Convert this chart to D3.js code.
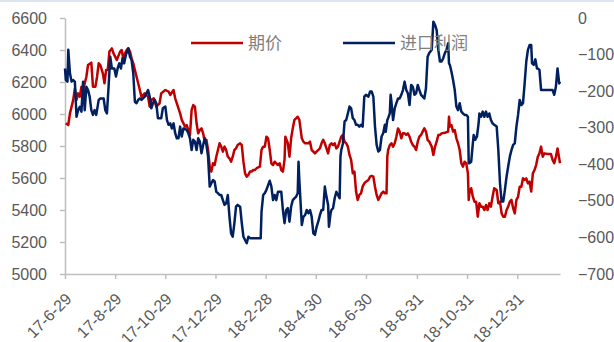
<!DOCTYPE html>
<html lang="zh">
<head>
    <meta charset="UTF-8">
    <title>期价与进口利润</title>
    <script src="https://d3js.org/d3.v7.min.js"></script>
    <style>
        body {
            margin: 0;
            background: #ffffff;
            font-family: 'Open Sans', 'Noto Sans CJK SC', sans-serif;
        }
        .axis text {
            font-size: 16px;
            fill: #595959;
        }
        .axis path, .axis line {
            stroke: #bfbfbf;
            stroke-width: 1.5px;
        }
        .legend text {
            font-size: 17px;
            fill: #7f7f7f;
        }
    </style>
</head>
<body>
    <div id="chart"></div>

    <script>
        // 期价 (left axis)
        const priceData = [
            ["2017-06-30", 5942], ["2017-07-03", 5931], ["2017-07-05", 6004], ["2017-07-09", 6088], ["2017-07-11", 6160],
            ["2017-07-13", 6088], ["2017-07-15", 6129], ["2017-07-17", 6108], ["2017-07-19", 6171], ["2017-07-21", 6150],
            ["2017-07-25", 6233], ["2017-07-27", 6306], ["2017-07-31", 6321], ["2017-08-02", 6171], ["2017-08-05", 6171],
            ["2017-08-07", 6233], ["2017-08-09", 6317], ["2017-08-11", 6306], ["2017-08-14", 6254], ["2017-08-16", 6192],
            ["2017-08-18", 6275], ["2017-08-20", 6275], ["2017-08-22", 6390], ["2017-08-25", 6410], ["2017-08-27", 6379],
            ["2017-08-31", 6338], ["2017-09-04", 6390], ["2017-09-06", 6400], ["2017-09-08", 6338], ["2017-09-10", 6379],
            ["2017-09-12", 6400], ["2017-09-14", 6410], ["2017-09-16", 6390], ["2017-09-18", 6348], ["2017-09-20", 6317],
            ["2017-09-23", 6254], ["2017-09-26", 6192], ["2017-09-28", 6150], ["2017-09-30", 6108], ["2017-10-04", 6129],
            ["2017-10-08", 6108], ["2017-10-10", 6046], ["2017-10-12", 6088], ["2017-10-15", 6098], ["2017-10-18", 6046],
            ["2017-10-22", 6067], ["2017-10-24", 6129], ["2017-10-29", 6150], ["2017-11-02", 6140], ["2017-11-04", 6119],
            ["2017-11-08", 6150], ["2017-11-10", 6098], ["2017-11-12", 6067], ["2017-11-16", 6004], ["2017-11-18", 5963],
            ["2017-11-22", 5921], ["2017-11-24", 5931], ["2017-11-26", 5900], ["2017-11-28", 5869], ["2017-11-30", 6025],
            ["2017-12-02", 6056], ["2017-12-04", 6046], ["2017-12-06", 5942], ["2017-12-08", 5879], ["2017-12-10", 5900],
            ["2017-12-12", 5910], ["2017-12-14", 5879], ["2017-12-16", 5827], ["2017-12-18", 5838], ["2017-12-20", 5775],
            ["2017-12-22", 5671], ["2017-12-24", 5640], ["2017-12-26", 5692], ["2017-12-28", 5681], ["2017-12-30", 5733],
            ["2018-01-01", 5775], ["2018-01-03", 5817], ["2018-01-05", 5796], ["2018-01-07", 5765], ["2018-01-09", 5796],
            ["2018-01-11", 5775], ["2018-01-13", 5733], ["2018-01-15", 5723], ["2018-01-17", 5702], ["2018-01-19", 5733],
            ["2018-01-21", 5775], ["2018-01-23", 5785], ["2018-01-25", 5806], ["2018-01-28", 5817], ["2018-01-30", 5806],
            ["2018-02-01", 5702], ["2018-02-03", 5629], ["2018-02-05", 5608], ["2018-02-07", 5619], ["2018-02-09", 5640],
            ["2018-02-11", 5640], ["2018-02-13", 5650], ["2018-02-15", 5650], ["2018-02-17", 5661], ["2018-02-21", 5671],
            ["2018-02-23", 5775], ["2018-02-25", 5796], ["2018-02-27", 5796], ["2018-03-01", 5858], ["2018-03-03", 5848],
            ["2018-03-05", 5775], ["2018-03-07", 5692], ["2018-03-09", 5681], ["2018-03-11", 5702], ["2018-03-13", 5692],
            ["2018-03-15", 5681], ["2018-03-17", 5692], ["2018-03-19", 5650], ["2018-03-21", 5640], ["2018-03-23", 5713],
            ["2018-03-24", 5858], ["2018-03-27", 5817], ["2018-03-29", 5733], ["2018-03-31", 5848], ["2018-04-02", 5910],
            ["2018-04-04", 5963], ["2018-04-06", 5973], ["2018-04-08", 5983], ["2018-04-10", 5963], ["2018-04-13", 5848],
            ["2018-04-15", 5827], ["2018-04-17", 5817], ["2018-04-21", 5817], ["2018-04-23", 5827], ["2018-04-25", 5775],
            ["2018-04-27", 5765], ["2018-04-29", 5754], ["2018-05-01", 5765], ["2018-05-05", 5785], ["2018-05-07", 5817],
            ["2018-05-09", 5838], ["2018-05-11", 5817], ["2018-05-13", 5785], ["2018-05-15", 5754], ["2018-05-17", 5806],
            ["2018-05-19", 5817], ["2018-05-21", 5806], ["2018-05-23", 5817], ["2018-05-25", 5785], ["2018-05-27", 5796],
            ["2018-05-29", 5827], ["2018-05-31", 5858], ["2018-06-02", 5869], ["2018-06-04", 5827], ["2018-06-06", 5817],
            ["2018-06-08", 5796], ["2018-06-10", 5744], ["2018-06-12", 5713], ["2018-06-14", 5629], ["2018-06-16", 5640],
            ["2018-06-18", 5515], ["2018-06-20", 5463], ["2018-06-22", 5494], ["2018-06-24", 5504], ["2018-06-26", 5546],
            ["2018-06-28", 5567], ["2018-06-30", 5577], ["2018-07-03", 5588], ["2018-07-05", 5608], ["2018-07-07", 5613],
            ["2018-07-09", 5608], ["2018-07-11", 5546], ["2018-07-13", 5494], ["2018-07-15", 5463], ["2018-07-17", 5483],
            ["2018-07-19", 5504], ["2018-07-21", 5515], ["2018-07-23", 5504], ["2018-07-25", 5504], ["2018-07-26", 5733],
            ["2018-07-27", 5775], ["2018-07-29", 5806], ["2018-07-31", 5817], ["2018-08-02", 5796], ["2018-08-04", 5817],
            ["2018-08-06", 5858], ["2018-08-08", 5910], ["2018-08-10", 5890], ["2018-08-12", 5848], ["2018-08-14", 5879],
            ["2018-08-16", 5879], ["2018-08-18", 5869], ["2018-08-20", 5879], ["2018-08-22", 5858], ["2018-08-24", 5827],
            ["2018-08-26", 5806], ["2018-08-28", 5796], ["2018-08-30", 5775], ["2018-09-01", 5827], ["2018-09-03", 5858],
            ["2018-09-05", 5869], ["2018-09-07", 5890], ["2018-09-09", 5910], ["2018-09-11", 5890], ["2018-09-13", 5838],
            ["2018-09-15", 5827], ["2018-09-18", 5796], ["2018-09-20", 5744], ["2018-09-22", 5796], ["2018-09-24", 5827],
            ["2018-09-26", 5869], ["2018-09-28", 5869], ["2018-09-30", 5879], ["2018-10-04", 5883], ["2018-10-08", 5890],
            ["2018-10-09", 5983], ["2018-10-10", 5921], ["2018-10-12", 5931], ["2018-10-14", 5890], ["2018-10-16", 5900],
            ["2018-10-18", 5848], ["2018-10-20", 5817], ["2018-10-22", 5775], ["2018-10-24", 5692], ["2018-10-26", 5671],
            ["2018-10-28", 5702], ["2018-10-30", 5692], ["2018-11-01", 5629], ["2018-11-02", 5463], ["2018-11-03", 5515],
            ["2018-11-05", 5536], ["2018-11-07", 5483], ["2018-11-09", 5452], ["2018-11-11", 5452], ["2018-11-13", 5358],
            ["2018-11-15", 5442], ["2018-11-17", 5421], ["2018-11-19", 5421], ["2018-11-21", 5400], ["2018-11-23", 5431],
            ["2018-11-25", 5400], ["2018-11-27", 5442], ["2018-11-29", 5421], ["2018-12-01", 5483], ["2018-12-03", 5536],
            ["2018-12-06", 5525], ["2018-12-08", 5442], ["2018-12-10", 5452], ["2018-12-12", 5379], ["2018-12-14", 5358],
            ["2018-12-16", 5358], ["2018-12-18", 5400], ["2018-12-20", 5421], ["2018-12-22", 5452], ["2018-12-24", 5463],
            ["2018-12-26", 5411], ["2018-12-28", 5379], ["2018-12-30", 5463], ["2019-01-01", 5483], ["2019-01-03", 5546],
            ["2019-01-05", 5546], ["2019-01-07", 5598], ["2019-01-09", 5588], ["2019-01-11", 5598], ["2019-01-13", 5567],
            ["2019-01-15", 5577], ["2019-01-17", 5515], ["2019-01-19", 5629], ["2019-01-21", 5650], ["2019-01-23", 5681],
            ["2019-01-25", 5733], ["2019-01-27", 5754], ["2019-01-29", 5796], ["2019-01-31", 5733], ["2019-02-02", 5754],
            ["2019-02-06", 5750], ["2019-02-10", 5750], ["2019-02-12", 5713], ["2019-02-14", 5692], ["2019-02-16", 5733],
            ["2019-02-18", 5785], ["2019-02-21", 5692]
        ];

        // 进口利润 (right axis)
        const profitData = [
            ["2017-06-29", -138], ["2017-06-30", -169], ["2017-07-02", -174], ["2017-07-03", -87], ["2017-07-05", -151],
            ["2017-07-07", -174], ["2017-07-09", -170], ["2017-07-11", -174], ["2017-07-13", -270], ["2017-07-15", -252],
            ["2017-07-17", -243], ["2017-07-19", -256], ["2017-07-21", -174], ["2017-07-23", -252], ["2017-07-25", -188],
            ["2017-07-27", -197], ["2017-07-29", -215], ["2017-07-31", -252], ["2017-08-02", -265], ["2017-08-04", -252],
            ["2017-08-06", -265], ["2017-08-09", -224], ["2017-08-11", -220], ["2017-08-15", -220], ["2017-08-17", -252],
            ["2017-08-19", -261], ["2017-08-21", -188], ["2017-08-23", -106], ["2017-08-25", -138], ["2017-08-28", -138],
            ["2017-08-30", -160], ["2017-09-01", -138], ["2017-09-03", -124], ["2017-09-05", -138], ["2017-09-07", -110],
            ["2017-09-09", -124], ["2017-09-11", -101], ["2017-09-14", -83], ["2017-09-16", -106], ["2017-09-18", -115],
            ["2017-09-20", -151], ["2017-09-22", -229], ["2017-09-24", -233], ["2017-09-26", -224], ["2017-09-28", -220],
            ["2017-09-30", -224], ["2017-10-04", -215], ["2017-10-08", -197], ["2017-10-10", -215], ["2017-10-12", -247],
            ["2017-10-14", -233], ["2017-10-16", -224], ["2017-10-18", -233], ["2017-10-20", -274], ["2017-10-24", -274],
            ["2017-10-26", -247], ["2017-10-29", -242], ["2017-10-31", -279], ["2017-11-02", -292], ["2017-11-04", -288],
            ["2017-11-06", -302], ["2017-11-08", -288], ["2017-11-10", -315], ["2017-11-12", -329], ["2017-11-14", -329],
            ["2017-11-16", -297], ["2017-11-18", -324], ["2017-11-20", -302], ["2017-11-24", -306], ["2017-11-26", -315],
            ["2017-11-28", -329], ["2017-11-30", -361], ["2017-12-02", -333], ["2017-12-04", -338], ["2017-12-06", -361],
            ["2017-12-08", -329], ["2017-12-10", -338], ["2017-12-12", -370], ["2017-12-14", -347], ["2017-12-16", -329],
            ["2017-12-18", -347], ["2017-12-20", -379], ["2017-12-22", -461], ["2017-12-24", -452], ["2017-12-26", -443],
            ["2017-12-28", -447], ["2017-12-30", -475], ["2018-01-01", -479], ["2018-01-03", -484], ["2018-01-05", -484],
            ["2018-01-07", -498], ["2018-01-09", -511], ["2018-01-11", -507], ["2018-01-13", -484], ["2018-01-15", -543],
            ["2018-01-17", -589], ["2018-01-19", -598], ["2018-01-21", -561], ["2018-01-23", -516], ["2018-01-25", -511],
            ["2018-01-28", -516], ["2018-01-30", -561], ["2018-02-01", -598], ["2018-02-03", -607], ["2018-02-05", -616],
            ["2018-02-07", -598], ["2018-02-09", -602], ["2018-02-22", -602], ["2018-02-23", -530], ["2018-02-25", -484],
            ["2018-02-27", -479], ["2018-03-01", -470], ["2018-03-03", -457], ["2018-03-05", -445], ["2018-03-07", -461],
            ["2018-03-09", -498], ["2018-03-11", -484], ["2018-03-13", -498], ["2018-03-15", -475], ["2018-03-19", -475],
            ["2018-03-21", -525], ["2018-03-23", -561], ["2018-03-25", -525], ["2018-03-27", -520], ["2018-03-29", -557],
            ["2018-03-31", -516], ["2018-04-02", -498], ["2018-04-04", -493], ["2018-04-06", -489], ["2018-04-08", -479],
            ["2018-04-09", -393], ["2018-04-10", -443], ["2018-04-12", -525], ["2018-04-13", -566], ["2018-04-15", -543],
            ["2018-04-17", -539], ["2018-04-19", -525], ["2018-04-21", -534], ["2018-04-23", -525], ["2018-04-25", -543],
            ["2018-04-27", -589], ["2018-04-29", -593], ["2018-05-01", -571], ["2018-05-03", -557], ["2018-05-05", -539],
            ["2018-05-07", -525], ["2018-05-09", -525], ["2018-05-11", -461], ["2018-05-13", -489], ["2018-05-15", -511],
            ["2018-05-16", -571], ["2018-05-18", -534], ["2018-05-19", -525], ["2018-05-21", -520], ["2018-05-23", -493],
            ["2018-05-25", -475], ["2018-05-27", -484], ["2018-05-29", -493], ["2018-05-30", -379], ["2018-05-31", -361],
            ["2018-06-02", -343], ["2018-06-04", -283], ["2018-06-06", -279], ["2018-06-08", -261], ["2018-06-10", -242],
            ["2018-06-12", -247], ["2018-06-14", -274], ["2018-06-16", -279], ["2018-06-18", -292], ["2018-06-20", -292],
            ["2018-06-22", -297], ["2018-06-24", -292], ["2018-06-26", -297], ["2018-06-28", -215], ["2018-06-30", -210],
            ["2018-07-03", -215], ["2018-07-05", -201], ["2018-07-07", -201], ["2018-07-09", -215], ["2018-07-11", -297],
            ["2018-07-13", -347], ["2018-07-15", -365], ["2018-07-17", -361], ["2018-07-19", -324], ["2018-07-21", -315],
            ["2018-07-23", -292], ["2018-07-24", -311], ["2018-07-26", -279], ["2018-07-27", -274], ["2018-07-29", -261],
            ["2018-07-30", -210], ["2018-07-31", -229], ["2018-08-02", -279], ["2018-08-04", -247], ["2018-08-06", -233],
            ["2018-08-08", -220], ["2018-08-10", -220], ["2018-08-12", -210], ["2018-08-14", -197], ["2018-08-16", -174],
            ["2018-08-18", -197], ["2018-08-20", -206], ["2018-08-22", -238], ["2018-08-24", -183], ["2018-08-26", -188],
            ["2018-08-28", -210], ["2018-08-30", -206], ["2018-09-01", -183], ["2018-09-03", -197], ["2018-09-05", -210],
            ["2018-09-07", -215], ["2018-09-09", -220], ["2018-09-11", -192], ["2018-09-13", -106], ["2018-09-15", -96],
            ["2018-09-18", -87], ["2018-09-20", -10], ["2018-09-22", -19], ["2018-09-24", -33], ["2018-09-26", -87],
            ["2018-09-28", -119], ["2018-09-30", -119], ["2018-10-02", -110], ["2018-10-04", -96], ["2018-10-06", -87],
            ["2018-10-08", -69], ["2018-10-09", -124], ["2018-10-10", -128], ["2018-10-12", -147], ["2018-10-14", -170],
            ["2018-10-16", -197], ["2018-10-18", -242], ["2018-10-20", -252], ["2018-10-22", -233], ["2018-10-24", -256],
            ["2018-10-26", -261], ["2018-10-28", -265], ["2018-10-30", -265], ["2018-11-01", -270], ["2018-11-02", -397],
            ["2018-11-03", -397], ["2018-11-05", -393], ["2018-11-07", -343], ["2018-11-08", -320], ["2018-11-10", -333],
            ["2018-11-12", -324], ["2018-11-14", -288], ["2018-11-15", -261], ["2018-11-17", -270], ["2018-11-19", -256],
            ["2018-11-21", -270], ["2018-11-23", -256], ["2018-11-25", -270], ["2018-11-27", -261], ["2018-11-29", -279],
            ["2018-12-01", -288], ["2018-12-03", -292], ["2018-12-06", -297], ["2018-12-08", -361], ["2018-12-10", -452],
            ["2018-12-12", -502], ["2018-12-14", -502], ["2018-12-16", -470], ["2018-12-18", -434], ["2018-12-20", -406],
            ["2018-12-22", -379], ["2018-12-24", -361], ["2018-12-26", -347], ["2018-12-28", -343], ["2018-12-30", -297],
            ["2019-01-01", -265], ["2019-01-03", -224], ["2019-01-05", -238], ["2019-01-07", -233], ["2019-01-09", -179],
            ["2019-01-11", -119], ["2019-01-13", -87], ["2019-01-15", -74], ["2019-01-17", -74], ["2019-01-18", -124],
            ["2019-01-20", -128], ["2019-01-22", -113], ["2019-01-24", -138], ["2019-01-25", -138], ["2019-01-27", -142],
            ["2019-01-29", -197], ["2019-02-02", -197], ["2019-02-08", -197], ["2019-02-12", -197], ["2019-02-14", -210],
            ["2019-02-16", -188], ["2019-02-18", -138], ["2019-02-20", -179], ["2019-02-21", -174]
        ];

        const leftTicks = [5000, 5200, 5400, 5600, 5800, 6000, 6200, 6400, 6600];
        const rightTicks = [-700, -600, -500, -400, -300, -200, -100, 0];
        const xTicks = ["2017-06-29", "2017-08-29", "2017-10-29", "2017-12-29", "2018-02-28",
                        "2018-04-30", "2018-06-30", "2018-08-31", "2018-10-31", "2018-12-31"];
        const xStart = "2017-06-29", xEnd = "2019-02-21";
        const seriesNames = ["期价", "进口利润"];

        const width = 614;
        const height = 342;
        const margin = {top: 18, right: 54, bottom: 68, left: 65};
        const parse = d3.timeParse("%Y-%m-%d");

        const svg = d3.select("#chart")
            .append("svg")
            .attr("width", width)
            .attr("height", height);

        // thin tinted strip along the top edge
        svg.append("rect")
            .attr("width", width)
            .attr("height", 2)
            .attr("fill", "#dce6f2");

        const x = d3.scaleTime()
            .domain([parse(xStart), parse(xEnd)])
            .range([margin.left, width - margin.right]);
        const yLeft = d3.scaleLinear()
            .domain([5000, 6600])
            .range([height - margin.bottom, margin.top]);
        const yRight = d3.scaleLinear()
            .domain([-700, 0])
            .range([height - margin.bottom, margin.top]);

        svg.append("g")
            .attr("class", "axis")
            .attr("transform", `translate(${margin.left},0)`)
            .call(d3.axisLeft(yLeft).tickValues(leftTicks).tickFormat(d3.format("d"))
                .tickSize(5).tickPadding(13).tickSizeOuter(0));

        svg.append("g")
            .attr("class", "axis")
            .attr("transform", `translate(${width - margin.right},0)`)
            .call(d3.axisRight(yRight).tickValues(rightTicks).tickFormat(d3.format("d"))
                .tickSize(0).tickPadding(18))
            .call(g => g.select(".domain").remove());

        const fmt = d => `${d.getFullYear() % 100}-${d.getMonth() + 1}-${d.getDate()}`;
        svg.append("g")
            .attr("class", "axis")
            .attr("transform", `translate(0,${height - margin.bottom})`)
            .call(d3.axisBottom(x).tickValues(xTicks.map(parse)).tickFormat(fmt).tickSize(5).tickSizeOuter(0))
            .selectAll("text")
            .attr("x", 0)
            .attr("y", 0)
            .attr("dy", "0.35em")
            .attr("transform", "translate(3,22) rotate(-45)")
            .style("text-anchor", "end");

        const lineLeft = d3.line()
            .x(d => x(parse(d[0])))
            .y(d => yLeft(d[1]));
        const lineRight = d3.line()
            .x(d => x(parse(d[0])))
            .y(d => yRight(d[1]));

        svg.append("path")
            .datum(priceData)
            .attr("fill", "none")
            .attr("stroke", "#c00000")
            .attr("stroke-width", 2.5)
            .attr("stroke-linejoin", "round")
            .attr("d", lineLeft);

        svg.append("path")
            .datum(profitData)
            .attr("fill", "none")
            .attr("stroke", "#002060")
            .attr("stroke-width", 2.5)
            .attr("stroke-linejoin", "round")
            .attr("d", lineRight);

        // legend
        const legend = svg.append("g").attr("class", "legend");
        const legendItems = [
            {name: seriesNames[0], color: "#c00000", x: 191},
            {name: seriesNames[1], color: "#002060", x: 343}
        ];
        legendItems.forEach(item => {
            legend.append("line")
                .attr("x1", item.x)
                .attr("x2", item.x + 52)
                .attr("y1", 43)
                .attr("y2", 43)
                .attr("stroke", item.color)
                .attr("stroke-width", 2.5);
            legend.append("text")
                .attr("x", item.x + 57)
                .attr("y", 43)
                .attr("dy", "0.35em")
                .text(item.name);
        });
    </script>
</body>
</html>
